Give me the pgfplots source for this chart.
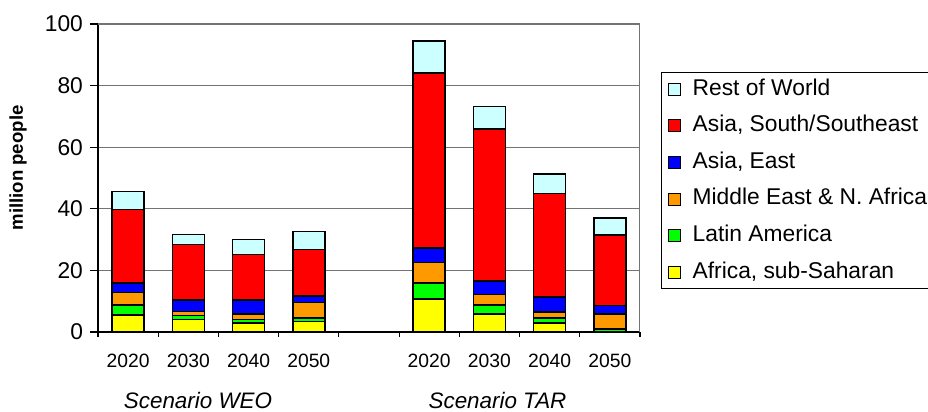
\documentclass[border=0pt]{standalone}
\usepackage{pgfplots}
\pgfplotsset{compat=1.18}
\usepackage{pgfplotstable}
\usepackage{fontspec}
\setmainfont{Liberation Sans}

\definecolor{rowc}{RGB}{204,255,255}
\definecolor{southc}{RGB}{255,0,0}
\definecolor{eastc}{RGB}{0,0,255}
\definecolor{menac}{RGB}{255,153,0}
\definecolor{latc}{RGB}{0,255,0}
\definecolor{afrc}{RGB}{255,255,0}

% million people at risk, by region; slot 4 separates the two scenarios
\pgfplotstableread{
x  afr  lat  mena east south rest
0  5.5  3.2  4.1  3.2  23.8  5.8
1  4.0  1.3  1.3  3.7  18.1  3.2
2  2.9  1.2  1.8  4.4  14.9  4.8
3  3.4  1.2  5.0  2.1  15.1  5.8
5  10.8 5.2  6.6  4.7  56.7  10.5
6  5.9  2.9  3.4  4.4  49.3  7.3
7  2.9  1.7  1.9  4.8  33.7  6.3
8  0.0  0.9  4.9  2.8  22.8  5.7
}\risk

\begin{document}
\begin{tikzpicture}
\begin{axis}[
  at={(49pt,40pt)}, anchor=south west,
  scale only axis, width=271pt, height=154pt,
  ybar stacked, bar width=16pt,
  xmin=-0.5, xmax=8.5, ymin=0, ymax=100,
  enlargelimits=false,
  axis x line*=bottom, axis y line*=left,
  axis line style={-, black, line width=0.6pt},
  ytick={0,20,...,100},
  ymajorgrids, grid style={black!55, line width=0.6pt},
  xtick={0,1,2,3,5,6,7,8},
  xticklabels={2020,2030,2040,2050,2020,2030,2040,2050},
  minor xtick={-0.5,0.5,1.5,2.5,3.5,4.5,5.5,6.5,7.5,8.5},
  major x tick style={draw=none},
  tick align=outside,
  major tick length=4pt, minor tick length=2.5pt,
  tick style={black, line width=0.6pt},
  /pgf/number format/assume math mode=true,
  yticklabel style={font=\fontsize{11.4}{13}\selectfont},
  xticklabel style={font=\fontsize{9.65}{11}\selectfont, yshift=-3.5pt},
  legend style={at={(1.0387,0.844)}, anchor=north west, draw=black,
    line width=0.5pt, font=\fontsize{11.4}{13}\selectfont,
    row sep=7.6pt, inner xsep=3.5pt, inner ysep=3pt,
    nodes={inner sep=0pt, text height=8.3pt, text depth=2.4pt},
    /tikz/every odd column/.append style={column sep=5.6pt}},
  legend cell align=left,
  reverse legend,
  legend image code/.code={\draw[#1, line width=0.5pt] (0pt,-3pt) rectangle (6pt,3pt);},
  every axis plot/.append style={draw=black, line width=0.8pt},
]
\addplot[fill=afrc] table[x=x, y=afr] {\risk};
\addlegendentry{Africa, sub-Saharan}
\addplot[fill=latc] table[x=x, y=lat] {\risk};
\addlegendentry{Latin America}
\addplot[fill=menac] table[x=x, y=mena] {\risk};
\addlegendentry{Middle East \& N. Africa}
\addplot[fill=eastc] table[x=x, y=east] {\risk};
\addlegendentry{Asia, East}
\addplot[fill=southc] table[x=x, y=south] {\risk};
\addlegendentry{Asia, South/Southeast}
\addplot[fill=rowc] table[x=x, y=rest] {\risk};
\addlegendentry{Rest of World}
% grey frame on the open sides of the plot area
\draw[black!55, line width=0.6pt] (rel axis cs:0,1) -- (rel axis cs:1,1) -- (rel axis cs:1,0);
\end{axis}
\node[font=\fontsize{11.2}{13}\selectfont\itshape] at (99pt,6pt) {Scenario WEO};
\node[font=\fontsize{11.2}{13}\selectfont\itshape] at (248.75pt,6pt) {Scenario TAR};
\node[rotate=90, font=\bfseries\fontsize{9.3}{11}\selectfont] at (9pt,122pt) {million people};
\pgfresetboundingbox
\useasboundingbox (0pt,0pt) rectangle (464pt,206pt);
\end{tikzpicture}
\end{document}
